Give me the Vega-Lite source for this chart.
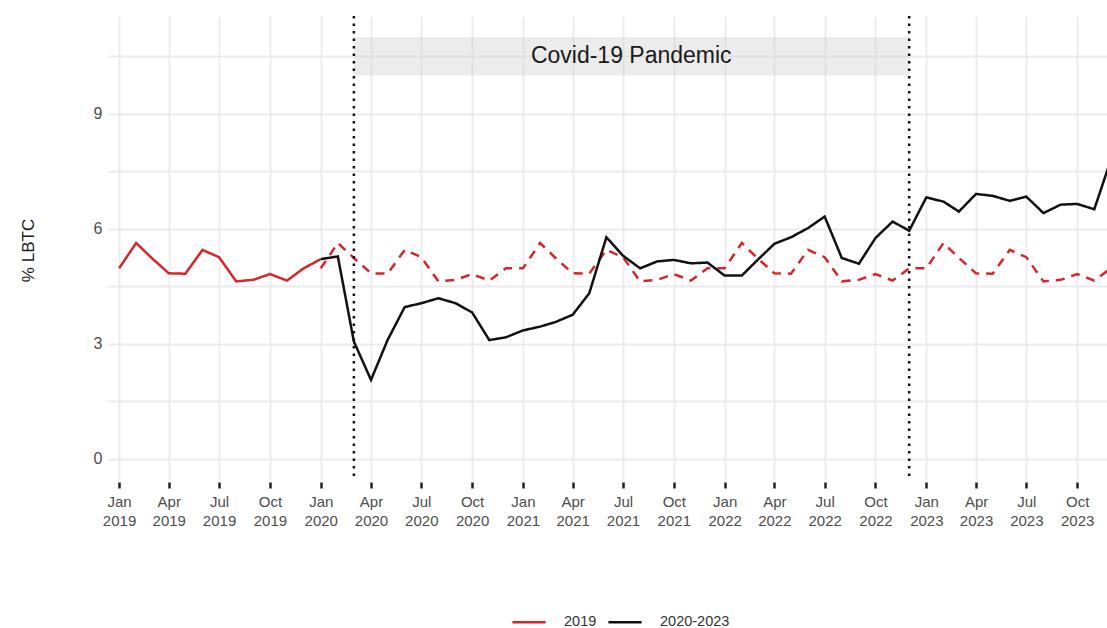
{
  "$schema": "https://vega.github.io/schema/vega-lite/v6.json",
  "width": 999,
  "height": 464,
  "autosize": {"type": "none"},
  "padding": {"left": 108, "top": 16, "right": 0, "bottom": 148},
  "background": "white",
  "config": {
    "font": "Liberation Sans",
    "view": {"stroke": null},
    "axis": {
      "domain": false,
      "gridColor": "#ebebeb",
      "gridWidth": 1.8,
      "labelColor": "#4d4d4d",
      "labelFont": "Liberation Sans"
    }
  },
  "datasets": {
    "lbtc": [
      {"month": "2019-01-01", "pct": 4.97, "group": "2019", "style": "solid"},
      {"month": "2019-02-01", "pct": 5.63, "group": "2019", "style": "solid"},
      {"month": "2019-03-01", "pct": 5.24, "group": "2019", "style": "solid"},
      {"month": "2019-04-01", "pct": 4.84, "group": "2019", "style": "solid"},
      {"month": "2019-05-01", "pct": 4.83, "group": "2019", "style": "solid"},
      {"month": "2019-06-01", "pct": 5.45, "group": "2019", "style": "solid"},
      {"month": "2019-07-01", "pct": 5.26, "group": "2019", "style": "solid"},
      {"month": "2019-08-01", "pct": 4.63, "group": "2019", "style": "solid"},
      {"month": "2019-09-01", "pct": 4.67, "group": "2019", "style": "solid"},
      {"month": "2019-10-01", "pct": 4.82, "group": "2019", "style": "solid"},
      {"month": "2019-11-01", "pct": 4.65, "group": "2019", "style": "solid"},
      {"month": "2019-12-01", "pct": 4.97, "group": "2019", "style": "solid"},
      {"month": "2020-01-01", "pct": 5.21, "group": "2019", "style": "solid"},

      {"month": "2020-01-01", "pct": 4.97, "group": "2019", "style": "dashed"},
      {"month": "2020-02-01", "pct": 5.63, "group": "2019", "style": "dashed"},
      {"month": "2020-03-01", "pct": 5.24, "group": "2019", "style": "dashed"},
      {"month": "2020-04-01", "pct": 4.84, "group": "2019", "style": "dashed"},
      {"month": "2020-05-01", "pct": 4.83, "group": "2019", "style": "dashed"},
      {"month": "2020-06-01", "pct": 5.45, "group": "2019", "style": "dashed"},
      {"month": "2020-07-01", "pct": 5.26, "group": "2019", "style": "dashed"},
      {"month": "2020-08-01", "pct": 4.63, "group": "2019", "style": "dashed"},
      {"month": "2020-09-01", "pct": 4.67, "group": "2019", "style": "dashed"},
      {"month": "2020-10-01", "pct": 4.82, "group": "2019", "style": "dashed"},
      {"month": "2020-11-01", "pct": 4.65, "group": "2019", "style": "dashed"},
      {"month": "2020-12-01", "pct": 4.97, "group": "2019", "style": "dashed"},
      {"month": "2021-01-01", "pct": 4.97, "group": "2019", "style": "dashed"},
      {"month": "2021-02-01", "pct": 5.63, "group": "2019", "style": "dashed"},
      {"month": "2021-03-01", "pct": 5.24, "group": "2019", "style": "dashed"},
      {"month": "2021-04-01", "pct": 4.84, "group": "2019", "style": "dashed"},
      {"month": "2021-05-01", "pct": 4.83, "group": "2019", "style": "dashed"},
      {"month": "2021-06-01", "pct": 5.45, "group": "2019", "style": "dashed"},
      {"month": "2021-07-01", "pct": 5.26, "group": "2019", "style": "dashed"},
      {"month": "2021-08-01", "pct": 4.63, "group": "2019", "style": "dashed"},
      {"month": "2021-09-01", "pct": 4.67, "group": "2019", "style": "dashed"},
      {"month": "2021-10-01", "pct": 4.82, "group": "2019", "style": "dashed"},
      {"month": "2021-11-01", "pct": 4.65, "group": "2019", "style": "dashed"},
      {"month": "2021-12-01", "pct": 4.97, "group": "2019", "style": "dashed"},
      {"month": "2022-01-01", "pct": 4.97, "group": "2019", "style": "dashed"},
      {"month": "2022-02-01", "pct": 5.63, "group": "2019", "style": "dashed"},
      {"month": "2022-03-01", "pct": 5.24, "group": "2019", "style": "dashed"},
      {"month": "2022-04-01", "pct": 4.84, "group": "2019", "style": "dashed"},
      {"month": "2022-05-01", "pct": 4.83, "group": "2019", "style": "dashed"},
      {"month": "2022-06-01", "pct": 5.45, "group": "2019", "style": "dashed"},
      {"month": "2022-07-01", "pct": 5.26, "group": "2019", "style": "dashed"},
      {"month": "2022-08-01", "pct": 4.63, "group": "2019", "style": "dashed"},
      {"month": "2022-09-01", "pct": 4.67, "group": "2019", "style": "dashed"},
      {"month": "2022-10-01", "pct": 4.82, "group": "2019", "style": "dashed"},
      {"month": "2022-11-01", "pct": 4.65, "group": "2019", "style": "dashed"},
      {"month": "2022-12-01", "pct": 4.97, "group": "2019", "style": "dashed"},
      {"month": "2023-01-01", "pct": 4.97, "group": "2019", "style": "dashed"},
      {"month": "2023-02-01", "pct": 5.63, "group": "2019", "style": "dashed"},
      {"month": "2023-03-01", "pct": 5.24, "group": "2019", "style": "dashed"},
      {"month": "2023-04-01", "pct": 4.84, "group": "2019", "style": "dashed"},
      {"month": "2023-05-01", "pct": 4.83, "group": "2019", "style": "dashed"},
      {"month": "2023-06-01", "pct": 5.45, "group": "2019", "style": "dashed"},
      {"month": "2023-07-01", "pct": 5.26, "group": "2019", "style": "dashed"},
      {"month": "2023-08-01", "pct": 4.63, "group": "2019", "style": "dashed"},
      {"month": "2023-09-01", "pct": 4.67, "group": "2019", "style": "dashed"},
      {"month": "2023-10-01", "pct": 4.82, "group": "2019", "style": "dashed"},
      {"month": "2023-11-01", "pct": 4.65, "group": "2019", "style": "dashed"},
      {"month": "2023-12-01", "pct": 4.97, "group": "2019", "style": "dashed"},

      {"month": "2020-01-01", "pct": 5.21, "group": "2020-2023", "style": "solid"},
      {"month": "2020-02-01", "pct": 5.28, "group": "2020-2023", "style": "solid"},
      {"month": "2020-03-01", "pct": 3.06, "group": "2020-2023", "style": "solid"},
      {"month": "2020-04-01", "pct": 2.06, "group": "2020-2023", "style": "solid"},
      {"month": "2020-05-01", "pct": 3.10, "group": "2020-2023", "style": "solid"},
      {"month": "2020-06-01", "pct": 3.96, "group": "2020-2023", "style": "solid"},
      {"month": "2020-07-01", "pct": 4.06, "group": "2020-2023", "style": "solid"},
      {"month": "2020-08-01", "pct": 4.19, "group": "2020-2023", "style": "solid"},
      {"month": "2020-09-01", "pct": 4.06, "group": "2020-2023", "style": "solid"},
      {"month": "2020-10-01", "pct": 3.82, "group": "2020-2023", "style": "solid"},
      {"month": "2020-11-01", "pct": 3.10, "group": "2020-2023", "style": "solid"},
      {"month": "2020-12-01", "pct": 3.17, "group": "2020-2023", "style": "solid"},
      {"month": "2021-01-01", "pct": 3.35, "group": "2020-2023", "style": "solid"},
      {"month": "2021-02-01", "pct": 3.45, "group": "2020-2023", "style": "solid"},
      {"month": "2021-03-01", "pct": 3.57, "group": "2020-2023", "style": "solid"},
      {"month": "2021-04-01", "pct": 3.76, "group": "2020-2023", "style": "solid"},
      {"month": "2021-05-01", "pct": 4.32, "group": "2020-2023", "style": "solid"},
      {"month": "2021-06-01", "pct": 5.78, "group": "2020-2023", "style": "solid"},
      {"month": "2021-07-01", "pct": 5.30, "group": "2020-2023", "style": "solid"},
      {"month": "2021-08-01", "pct": 4.97, "group": "2020-2023", "style": "solid"},
      {"month": "2021-09-01", "pct": 5.15, "group": "2020-2023", "style": "solid"},
      {"month": "2021-10-01", "pct": 5.19, "group": "2020-2023", "style": "solid"},
      {"month": "2021-11-01", "pct": 5.10, "group": "2020-2023", "style": "solid"},
      {"month": "2021-12-01", "pct": 5.12, "group": "2020-2023", "style": "solid"},
      {"month": "2022-01-01", "pct": 4.78, "group": "2020-2023", "style": "solid"},
      {"month": "2022-02-01", "pct": 4.78, "group": "2020-2023", "style": "solid"},
      {"month": "2022-03-01", "pct": 5.18, "group": "2020-2023", "style": "solid"},
      {"month": "2022-04-01", "pct": 5.61, "group": "2020-2023", "style": "solid"},
      {"month": "2022-05-01", "pct": 5.78, "group": "2020-2023", "style": "solid"},
      {"month": "2022-06-01", "pct": 6.02, "group": "2020-2023", "style": "solid"},
      {"month": "2022-07-01", "pct": 6.32, "group": "2020-2023", "style": "solid"},
      {"month": "2022-08-01", "pct": 5.24, "group": "2020-2023", "style": "solid"},
      {"month": "2022-09-01", "pct": 5.09, "group": "2020-2023", "style": "solid"},
      {"month": "2022-10-01", "pct": 5.76, "group": "2020-2023", "style": "solid"},
      {"month": "2022-11-01", "pct": 6.19, "group": "2020-2023", "style": "solid"},
      {"month": "2022-12-01", "pct": 5.95, "group": "2020-2023", "style": "solid"},
      {"month": "2023-01-01", "pct": 6.82, "group": "2020-2023", "style": "solid"},
      {"month": "2023-02-01", "pct": 6.71, "group": "2020-2023", "style": "solid"},
      {"month": "2023-03-01", "pct": 6.45, "group": "2020-2023", "style": "solid"},
      {"month": "2023-04-01", "pct": 6.91, "group": "2020-2023", "style": "solid"},
      {"month": "2023-05-01", "pct": 6.86, "group": "2020-2023", "style": "solid"},
      {"month": "2023-06-01", "pct": 6.73, "group": "2020-2023", "style": "solid"},
      {"month": "2023-07-01", "pct": 6.84, "group": "2020-2023", "style": "solid"},
      {"month": "2023-08-01", "pct": 6.41, "group": "2020-2023", "style": "solid"},
      {"month": "2023-09-01", "pct": 6.63, "group": "2020-2023", "style": "solid"},
      {"month": "2023-10-01", "pct": 6.65, "group": "2020-2023", "style": "solid"},
      {"month": "2023-11-01", "pct": 6.51, "group": "2020-2023", "style": "solid"},
      {"month": "2023-12-01", "pct": 7.80, "group": "2020-2023", "style": "solid"}
    ],
    "pandemic": [
      {"start": "2020-03-01", "end": "2022-12-01", "label": "Covid-19 Pandemic"}
    ],
    "boundaries": [
      {"when": "2020-03-01"},
      {"when": "2022-12-01"}
    ]
  },
  "layer": [
    {
      "data": {"name": "pandemic"},
      "mark": {"type": "rect", "fill": "#cfcfcf", "opacity": 0.4},
      "encoding": {
        "x": {"field": "start", "type": "temporal", "scale": {"type": "utc"}},
        "x2": {"field": "end"},
        "y": {"datum": 10},
        "y2": {"datum": 11}
      }
    },
    {
      "data": {"name": "pandemic"},
      "mark": {"type": "text", "fontSize": 23, "color": "#1a1a1a", "align": "center", "baseline": "middle", "font": "Liberation Sans"},
      "encoding": {
        "x": {"datum": {"year": 2021, "month": 7, "date": 16, "utc": true}, "type": "temporal", "scale": {"type": "utc"}},
        "y": {"datum": 10.5},
        "text": {"field": "label"}
      }
    },
    {
      "data": {"name": "lbtc"},
      "mark": {"type": "line", "strokeWidth": 2.5, "clip": true},
      "encoding": {
        "x": {
          "field": "month",
          "type": "temporal",
          "scale": {
            "type": "utc",
            "domain": [
              {"year": 2018, "month": 12, "date": 12, "utc": true},
              {"year": 2023, "month": 11, "date": 24, "utc": true}
            ]
          },
          "axis": {
            "title": null,
            "values": [
              {"year": 2019, "month": 1, "date": 1, "utc": true},
              {"year": 2019, "month": 4, "date": 1, "utc": true},
              {"year": 2019, "month": 7, "date": 1, "utc": true},
              {"year": 2019, "month": 10, "date": 1, "utc": true},
              {"year": 2020, "month": 1, "date": 1, "utc": true},
              {"year": 2020, "month": 4, "date": 1, "utc": true},
              {"year": 2020, "month": 7, "date": 1, "utc": true},
              {"year": 2020, "month": 10, "date": 1, "utc": true},
              {"year": 2021, "month": 1, "date": 1, "utc": true},
              {"year": 2021, "month": 4, "date": 1, "utc": true},
              {"year": 2021, "month": 7, "date": 1, "utc": true},
              {"year": 2021, "month": 10, "date": 1, "utc": true},
              {"year": 2022, "month": 1, "date": 1, "utc": true},
              {"year": 2022, "month": 4, "date": 1, "utc": true},
              {"year": 2022, "month": 7, "date": 1, "utc": true},
              {"year": 2022, "month": 10, "date": 1, "utc": true},
              {"year": 2023, "month": 1, "date": 1, "utc": true},
              {"year": 2023, "month": 4, "date": 1, "utc": true},
              {"year": 2023, "month": 7, "date": 1, "utc": true},
              {"year": 2023, "month": 10, "date": 1, "utc": true}
            ],
            "labelExpr": "[utcFormat(datum.value, '%b'), utcFormat(datum.value, '%Y')]",
            "labelFontSize": 15,
            "labelLineHeight": 19,
            "labelPadding": 6,
            "labelOverlap": false,
            "labelFlush": false,
            "ticks": true,
            "tickColor": "#222222",
            "tickWidth": 2.5,
            "tickSize": 6,
            "offset": 2,
            "grid": true
          }
        },
        "y": {
          "field": "pct",
          "type": "quantitative",
          "scale": {"domain": [-0.55, 11.55], "nice": false, "zero": false},
          "axis": {
            "title": "% LBTC",
            "titleFontSize": 17,
            "titleFontWeight": "normal",
            "titleColor": "#1a1a1a",
            "titleX": -80,
            "titleY": 234,
            "titleAlign": "center",
            "titleBaseline": "middle",
            "titleAngle": -90,
            "values": [0, 1.5, 3, 4.5, 6, 7.5, 9, 10.5],
            "labelExpr": "datum.value % 3 === 0 ? datum.label : ''",
            "labelFontSize": 16,
            "labelPadding": 6,
            "ticks": false,
            "grid": true
          }
        },
        "color": {
          "field": "group",
          "type": "nominal",
          "scale": {"domain": ["2019", "2020-2023"], "range": ["#d7262b", "#111111"]},
          "legend": {
            "title": null,
            "orient": "none",
            "direction": "horizontal",
            "legendX": 403,
            "legendY": 588,
            "symbolType": "stroke",
            "symbolSize": 1100,
            "symbolStrokeWidth": 2.5,
            "labelFontSize": 14.5,
            "labelColor": "#333333",
            "labelOffset": 17,
            "columnPadding": 6
          }
        },
        "strokeDash": {
          "field": "style",
          "type": "nominal",
          "scale": {"domain": ["solid", "dashed"], "range": [[1, 0], [9, 7]]},
          "legend": null
        }
      }
    },
    {
      "data": {"name": "boundaries"},
      "mark": {"type": "rule", "color": "#111111", "strokeWidth": 2.5, "strokeDash": [2.5, 5]},
      "encoding": {
        "x": {"field": "when", "type": "temporal", "scale": {"type": "utc"}}
      }
    }
  ]
}
